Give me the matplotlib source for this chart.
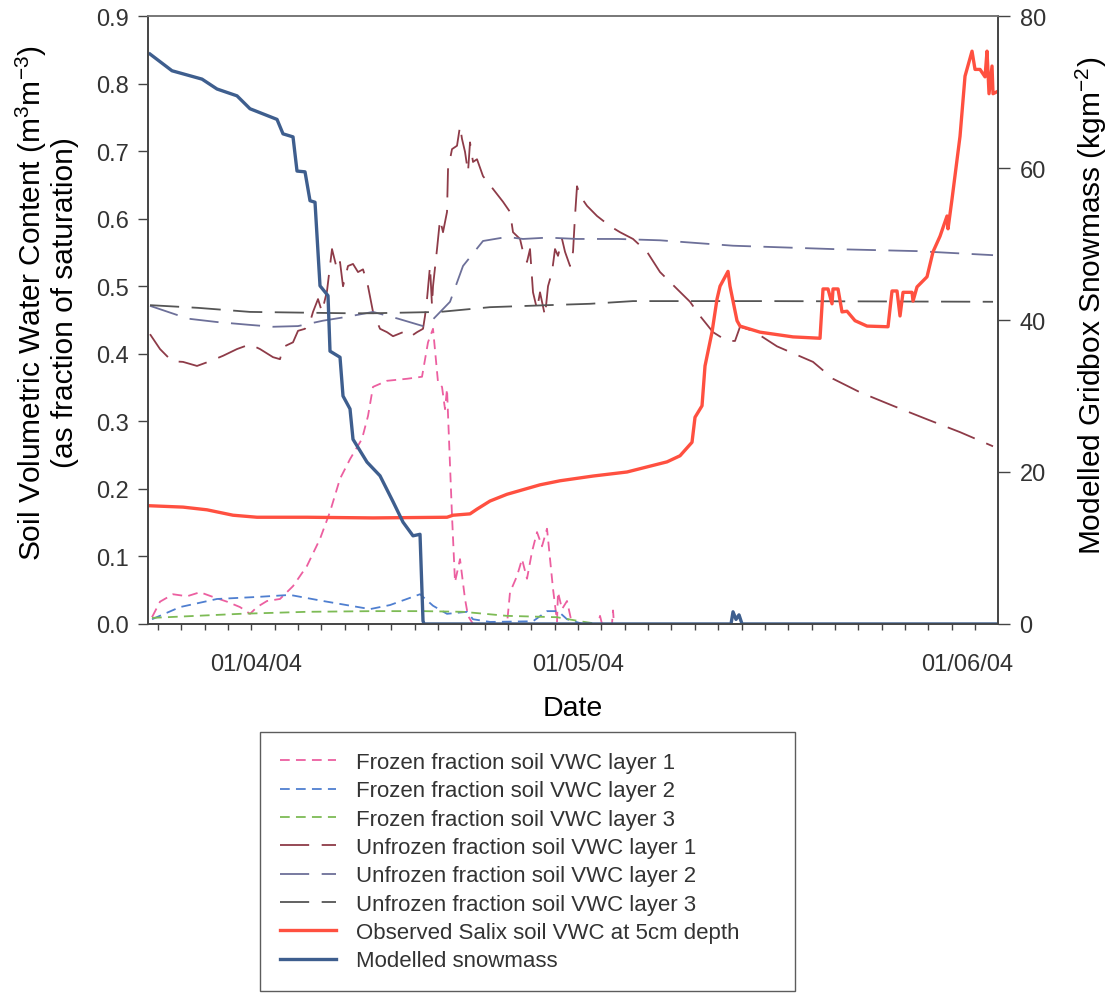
import numpy as np
import matplotlib
matplotlib.use('Agg')
import matplotlib.pyplot as plt

plt.rcParams['font.family'] = ['Liberation Sans', 'DejaVu Sans']
plt.rcParams['mathtext.fontset'] = 'custom'
plt.rcParams['mathtext.rm'] = 'Liberation Sans'
plt.rcParams['mathtext.it'] = 'Liberation Sans'
plt.rcParams['lines.scale_dashes'] = False
plt.rcParams['text.color'] = '#333333'

# time position along the (category) date axis
date_ticks = [10.8, 43.0, 81.9]
date_labels = ['01/04/04', '01/05/04', '01/06/04']

# frozen fraction soil VWC
fz1_t = [0.4, 1.2, 2.5, 3.9, 5.2, 6.5, 7.9, 9.2, 10.2, 10.9, 11.9, 13.2, 14.5, 15.9, 17.2, 18.2,
         19.2, 20.2, 21.4, 22.0, 22.5, 23.9, 25.9, 27.4, 28.0, 28.5, 29.0, 29.4, 29.7, 29.9, 30.4,
         30.7, 31.2, 31.7, 32.0, 32.5, 35.9, 36.2, 36.9, 37.4, 37.9, 38.4, 38.9, 39.4, 39.9, 40.5,
         40.9, 41.0, 41.4, 41.9, 42.4, 45.0, 45.2, 45.4, 46.4, 46.5, 46.6, 85.0]
fz1_v = [0.010, 0.033, 0.044, 0.041, 0.047, 0.040, 0.033, 0.025, 0.015, 0.025, 0.034, 0.037, 0.056,
         0.086, 0.126, 0.166, 0.215, 0.244, 0.274, 0.308, 0.351, 0.360, 0.363, 0.366, 0.417, 0.437,
         0.358, 0.351, 0.318, 0.348, 0.160, 0.062, 0.096, 0.037, 0.012, 0.0, 0.0, 0.047, 0.071,
         0.096, 0.067, 0.107, 0.136, 0.115, 0.141, 0.052, 0.004, 0.047, 0.022, 0.034, 0.0, 0.0,
         0.012, 0.0, 0.0, 0.020, 0.0, 0.0]

fz2_t = [0.4, 3.2, 6.9, 10.9, 14.2, 17.5, 22.2, 24.2, 27.2, 28.5, 29.9, 31.9, 32.5, 34.2, 38.5,
         39.9, 41.0, 41.9, 43.5, 85.0]
fz2_v = [0.007, 0.025, 0.037, 0.040, 0.043, 0.034, 0.022, 0.028, 0.044, 0.027, 0.015, 0.018,
         0.007, 0.003, 0.004, 0.019, 0.019, 0.007, 0.0, 0.0]

fz3_t = [0.4, 9.2, 15.9, 22.5, 27.5, 31.5, 35.9, 40.9, 43.2, 45.0, 85.0]
fz3_v = [0.009, 0.015, 0.018, 0.019, 0.019, 0.018, 0.012, 0.010, 0.004, 0.0, 0.0]

# unfrozen fraction soil VWC
uf1_t = [0.2, 1.2, 2.4, 3.5, 4.9, 6.2, 7.5, 8.9, 10.2, 11.2, 12.5, 13.2, 13.5, 14.5, 15.0, 15.7,
         15.9, 16.2, 16.5, 17.0, 17.4, 17.9, 18.4, 18.9, 19.2, 19.5, 20.0, 20.5, 21.0, 21.5, 22.0,
         22.5, 23.2, 23.9, 24.5, 25.5, 26.2, 26.9, 27.5, 27.7, 27.9, 28.2, 28.4, 28.5, 28.9, 29.2,
         29.5, 29.9, 30.0, 30.4, 30.9, 31.2, 31.4, 31.7, 32.0, 32.2, 32.5, 32.9, 33.5, 34.5, 35.5,
         36.2, 36.5, 37.2, 37.5, 37.9, 38.2, 38.5, 38.9, 39.2, 39.7, 40.0, 40.4, 40.7, 41.0, 41.4,
         41.7, 42.2, 42.5, 42.7, 42.9, 43.2, 43.9, 44.9, 46.2, 47.2, 48.5, 49.9, 51.2, 52.9, 54.2,
         55.2, 56.5, 57.9, 58.7, 59.2, 60.5, 62.9, 66.5, 68.5, 71.2, 74.5, 77.9, 81.2, 84.5]
uf1_v = [0.429, 0.407, 0.389, 0.388, 0.382, 0.389, 0.397, 0.407, 0.414, 0.407, 0.395, 0.392, 0.410,
         0.417, 0.434, 0.437, 0.444, 0.447, 0.462, 0.481, 0.462, 0.493, 0.555, 0.525, 0.536, 0.500,
         0.530, 0.533, 0.521, 0.525, 0.500, 0.462, 0.437, 0.432, 0.426, 0.432, 0.425, 0.432, 0.437,
         0.456, 0.481, 0.530, 0.471, 0.500, 0.555, 0.599, 0.580, 0.610, 0.673, 0.703, 0.708, 0.737,
         0.718, 0.699, 0.669, 0.713, 0.684, 0.688, 0.663, 0.644, 0.625, 0.610, 0.580, 0.570, 0.551,
         0.536, 0.555, 0.491, 0.466, 0.491, 0.456, 0.500, 0.521, 0.555, 0.545, 0.570, 0.551, 0.530,
         0.551, 0.604, 0.648, 0.634, 0.619, 0.604, 0.589, 0.580, 0.570, 0.551, 0.521, 0.496, 0.477,
         0.456, 0.432, 0.419, 0.419, 0.440, 0.434, 0.411, 0.388, 0.363, 0.343, 0.323, 0.303, 0.284,
         0.263]

uf2_t = [0.2, 2.0, 4.0, 6.9, 10.0, 12.5, 15.0, 17.5, 20.0, 22.5, 25.0, 27.5, 28.5, 30.2, 31.5,
         33.5, 35.9, 37.5, 40.0, 42.9, 47.0, 51.2, 58.5, 68.5, 76.9, 84.5]
uf2_v = [0.471, 0.462, 0.452, 0.447, 0.443, 0.440, 0.441, 0.449, 0.455, 0.462, 0.452, 0.441, 0.451,
         0.477, 0.530, 0.567, 0.573, 0.570, 0.572, 0.570, 0.570, 0.568, 0.560, 0.555, 0.552, 0.546]

uf3_t = [0.2, 5.0, 10.2, 15.0, 20.0, 22.5, 29.2, 34.2, 40.0, 44.2, 48.5, 61.9, 84.5]
uf3_v = [0.472, 0.468, 0.462, 0.461, 0.460, 0.460, 0.462, 0.469, 0.472, 0.474, 0.478, 0.478, 0.477]

# observed Salix soil VWC at 5 cm
obs_t = [0.2, 3.5, 5.9, 8.5, 10.9, 15.9, 22.5, 29.9, 30.5, 32.2, 32.9, 34.2, 35.9, 39.2, 41.2,
         44.5, 47.9, 51.9, 53.2, 54.4, 54.7, 55.4, 55.7, 56.4, 56.9, 57.2, 58.0, 58.2, 58.9, 59.2,
         61.2, 64.5, 67.2, 67.5, 68.0, 68.4, 68.5, 69.0, 69.4, 69.9, 70.7, 71.9, 74.0, 74.4, 74.9,
         75.2, 75.5, 76.4, 76.5, 76.9, 77.9, 78.5, 79.2, 79.9, 80.0, 80.4, 81.2, 81.7, 82.4, 82.7,
         83.2, 83.7, 83.9, 84.1, 84.4, 84.5, 84.9]
obs_v = [0.175, 0.173, 0.169, 0.161, 0.158, 0.158, 0.157, 0.158, 0.161, 0.163, 0.170, 0.182, 0.192,
         0.206, 0.212, 0.219, 0.225, 0.240, 0.249, 0.269, 0.306, 0.323, 0.382, 0.432, 0.481, 0.500,
         0.522, 0.500, 0.449, 0.441, 0.432, 0.425, 0.423, 0.496, 0.496, 0.474, 0.496, 0.496, 0.462,
         0.463, 0.449, 0.441, 0.440, 0.493, 0.493, 0.456, 0.491, 0.491, 0.478, 0.499, 0.514, 0.551,
         0.574, 0.604, 0.585, 0.629, 0.722, 0.811, 0.848, 0.821, 0.821, 0.810, 0.848, 0.785, 0.826,
         0.785, 0.788]

# modelled gridbox snowmass (kg m-2)
snow_t = [0.2, 2.4, 5.4, 6.9, 8.9, 10.2, 12.9, 13.5, 14.5, 14.9, 15.7, 16.2, 16.7, 17.2, 18.0,
          18.2, 19.2, 19.5, 20.2, 20.5, 21.9, 23.2, 24.5, 25.5, 26.5, 27.2, 27.5, 27.6, 58.3, 58.5,
          58.8, 59.1, 59.4, 85.0]
snow_v = [75.0, 72.8, 71.7, 70.4, 69.5, 67.8, 66.4, 64.5, 64.1, 59.6, 59.5, 55.7, 55.5, 44.5, 43.2,
          35.9, 35.1, 30.0, 28.3, 24.3, 21.3, 19.5, 16.1, 13.4, 11.6, 11.8, 0.4, 0.0, 0.0, 1.6,
          0.6, 1.2, 0.0, 0.0]

short_dash = (0, (7, 4.5))
long_dash = (0, (21, 9))
spine_col = '#444444'

fig = plt.figure(figsize=(11.12, 10.03), dpi=100)
ax = fig.add_axes([0.1331, 0.3769, 0.7644, 0.6061])
ax2 = ax.twinx()

h1, = ax.plot(fz1_t, fz1_v, color='#ec5fa0', lw=1.3, ls=short_dash, label='Frozen fraction soil VWC layer 1')
h2, = ax.plot(fz2_t, fz2_v, color='#4f7fd0', lw=1.3, ls=short_dash, label='Frozen fraction soil VWC layer 2')
h3, = ax.plot(fz3_t, fz3_v, color='#7dbb55', lw=1.3, ls=short_dash, label='Frozen fraction soil VWC layer 3')
h4, = ax.plot(uf1_t, uf1_v, color='#8e3b48', lw=1.3, ls=long_dash, label='Unfrozen fraction soil VWC layer 1')
h5, = ax.plot(uf2_t, uf2_v, color='#6d7099', lw=1.3, ls=long_dash, label='Unfrozen fraction soil VWC layer 2')
h6, = ax.plot(uf3_t, uf3_v, color='#555555', lw=1.3, ls=long_dash, label='Unfrozen fraction soil VWC layer 3')
h7, = ax.plot(obs_t, obs_v, color='#ff5040', lw=2.4, label='Observed Salix soil VWC at 5cm depth')
h8, = ax2.plot(snow_t, snow_v, color='#3e5e8e', lw=2.4, label='Modelled snowmass')

ax.set_xlim(0, 85)
ax.set_ylim(0, 0.9)
ax2.set_ylim(0, 80)
ax.set_yticks(np.arange(0, 0.91, 0.1))
ax.set_yticklabels(['%.1f' % v for v in np.arange(0, 0.91, 0.1)])
ax2.set_yticks([0, 20, 40, 60, 80])

ax.set_xticks(date_ticks)
ax.set_xticklabels(date_labels)
ax.set_xticks(1.0 + 2.334 * np.arange(36), minor=True)
ax.tick_params(axis='x', which='major', length=0, pad=21, labelsize=17, labelcolor='#333333')
ax.tick_params(axis='x', which='minor', length=4, width=1, color=spine_col, direction='out')
ax.tick_params(axis='y', length=7, width=1, color=spine_col, pad=7, labelsize=17, labelcolor='#333333')
ax2.tick_params(axis='y', length=8.5, width=1, color=spine_col, pad=7, labelsize=17, labelcolor='#333333')

for a in (ax, ax2):
    for s in a.spines.values():
        s.set_color(spine_col)
        s.set_linewidth(1.2)
ax2.spines['top'].set_color('#777777')
ax.spines['top'].set_color('#777777')

ax.set_xlabel('Date', fontsize=20.5, labelpad=14)
ax.set_ylabel('Soil Volumetric Water Content (m$^3$m$^{-3}$)\n(as fraction of saturation)',
              fontsize=21.5, linespacing=1.1)
ax.yaxis.set_label_coords(-0.081, 0.53)
ax2.set_ylabel('Modelled Gridbox Snowmass (kgm$^{-2}$)', fontsize=21.5)
ax2.yaxis.set_label_coords(1.089, 0.525)

handles = [h1, h2, h3, h4, h5, h6, h7, h8]
leg = fig.legend(handles=handles, labels=[h.get_label() for h in handles],
                 loc='upper left', bbox_to_anchor=(260 / 1112, 0.01, 535 / 1112, 0.2592),
                 mode='expand', fontsize=16,
                 frameon=True, fancybox=False, edgecolor='#333333', handlelength=2.5,
                 labelspacing=0.33, borderpad=0.9, handletextpad=0.9, borderaxespad=0)
leg.get_frame().set_linewidth(1.0)

fig.savefig('out.png', dpi=100)
